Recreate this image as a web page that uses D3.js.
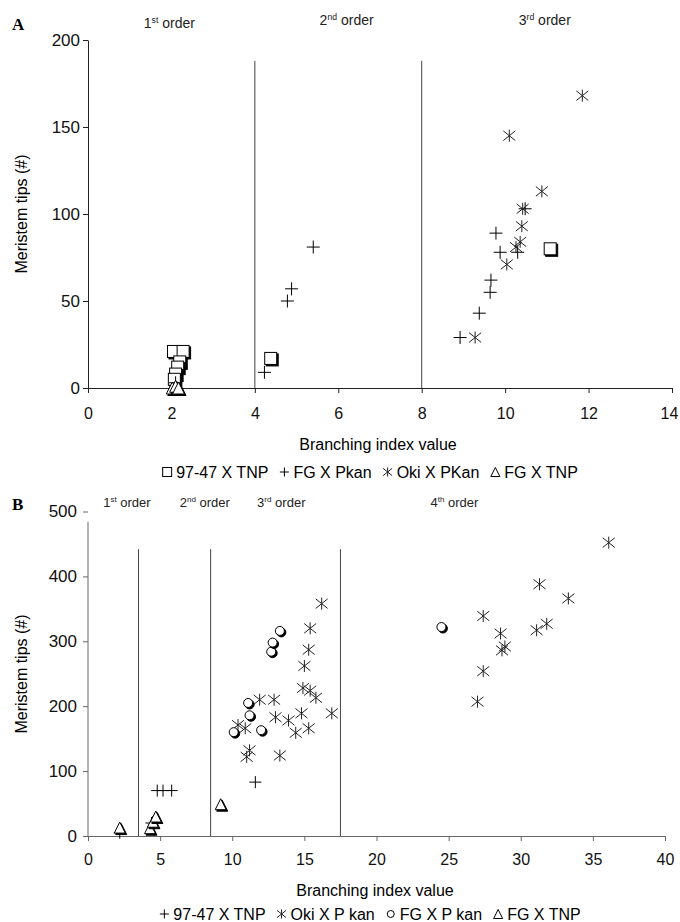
<!DOCTYPE html>
<html>
<head>
<meta charset="utf-8">
<script src="https://cdn.jsdelivr.net/npm/d3@7"></script>
<style>
  body { margin: 0; background: #fff; }
  svg { font-family: "Liberation Sans", Arial, sans-serif; }
</style>
</head>
<body>
<script>
// ---- panel A data (branching index, meristem tips) ----
const aXTicks = [0, 2, 4, 6, 8, 10, 12, 14];
const aYTicks = [0, 50, 100, 150, 200];
const aSquare = [[2.05, 21], [2.28, 21], [2.2, 15], [2.15, 12], [2.1, 8], [2.07, 5], [4.38, 17], [11.08, 80]];
const aPlus = [[2.1, 3], [4.23, 9], [4.78, 50], [4.88, 57], [5.4, 81], [8.92, 29], [9.38, 43], [9.64, 55], [9.66, 62], [9.78, 89], [9.88, 78], [10.3, 78], [10.48, 103]];
const aStar = [[9.28, 29], [10.04, 71], [10.26, 81], [10.36, 84], [10.4, 93], [10.42, 103], [10.88, 113], [10.1, 145], [11.85, 168]];
const aTri = [[2.02, 0], [2.1, 1], [2.17, 0]];
const aBounds = [4, 8];
const aBoundTop = 188;
const aOrders = [["1", "st", 1.95], ["2", "nd", 6.2], ["3", "rd", 10.95]];

// ---- panel B data ----
const bXTicks = [0, 5, 10, 15, 20, 25, 30, 35, 40];
const bYTicks = [0, 100, 200, 300, 400, 500];
const bPlus = [[2.2, 5], [4.4, 20], [4.8, 70], [5.2, 70], [5.8, 70], [11.6, 83]];
const bStar = [[10.4, 171], [10.9, 166], [11.2, 132], [11.0, 122], [11.9, 210], [12.9, 210], [13.0, 183], [13.3, 124], [13.9, 178], [14.4, 159], [14.8, 189], [15.3, 166], [16.9, 189], [14.9, 228], [15.4, 224], [15.8, 213], [15.0, 262], [15.3, 287], [15.4, 320], [16.2, 358], [27.0, 207], [27.4, 254], [28.7, 286], [28.9, 292], [28.6, 312], [27.4, 339], [31.1, 317], [31.8, 327], [33.3, 366], [31.3, 388], [36.1, 452]];
const bCircle = [[10.1, 160], [11.1, 205], [11.2, 186], [12.0, 163], [12.7, 284], [12.8, 298], [13.3, 316], [24.5, 322]];
const bTri = [[2.2, 13], [4.3, 12], [4.5, 22], [4.7, 30], [9.2, 49]];
const bBounds = [3.5, 8.5, 17.5];
const bBoundTop = 442;
const bOrders = [["1", "st", 2.7], ["2", "nd", 8.1], ["3", "rd", 13.4], ["4", "th", 25.4]];

const width = 680, height = 922;
const svg = d3.select("body").append("svg")
  .attr("width", width)
  .attr("height", height);

// draws one marker; shadow = the dark offset copy seen on the hollow symbols
function marker(g, type, x, y, s, shadow) {
  const h = s / 2;
  if (type == "square" || type == "circle" || type == "tri") {
    const shape = (dx, dy) => {
      if (type == "square") return g.append("rect").attr("x", x - h + dx).attr("y", y - h + dy).attr("width", s).attr("height", s);
      if (type == "circle") return g.append("circle").attr("cx", x + dx).attr("cy", y + dy).attr("r", h);
      return g.append("path").attr("d", `M${x + dx},${y - h + dy}L${x + h + dx},${y + h + dy}L${x - h + dx},${y + h + dy}Z`);
    };
    if (shadow) shape(1.5, 1.5).attr("fill", "#000").attr("stroke", "#000").attr("stroke-width", 1);
    shape(0, 0).attr("fill", "#fff").attr("stroke", "#000").attr("stroke-width", 1);
  } else if (type == "plus") {
    g.append("path").attr("d", `M${x - h},${y}H${x + h}M${x},${y - h}V${y + h}`)
      .attr("stroke", "#000").attr("stroke-width", 1).attr("fill", "none");
  } else {
    g.append("path").attr("d", `M${x - h},${y - h * 0.8}L${x + h},${y + h * 0.8}M${x + h},${y - h * 0.8}L${x - h},${y + h * 0.8}M${x},${y - h}V${y + h}`)
      .attr("stroke", "#222").attr("stroke-width", 1).attr("fill", "none");
  }
}

function panel(cfg) {
  const g = svg.append("g");
  const x = d3.scaleLinear().domain(cfg.xDomain).range(cfg.xRange);
  const y = d3.scaleLinear().domain(cfg.yDomain).range(cfg.yRange);

  // order boundaries
  g.selectAll(".bound").data(cfg.bounds).enter().append("line")
    .attr("x1", d => x(d)).attr("x2", d => x(d))
    .attr("y1", y(0)).attr("y2", y(cfg.boundTop))
    .attr("stroke", "#444").attr("stroke-width", 1);

  // axes
  const ax = g.append("g")
    .attr("transform", "translate(0," + y(0) + ")")
    .call(d3.axisBottom(x).tickValues(cfg.xTicks).tickSize(5).tickSizeOuter(0).tickPadding(cfg.xPad));
  const ay = g.append("g")
    .attr("transform", "translate(" + x(0) + ",0)")
    .call(d3.axisLeft(y).tickValues(cfg.yTicks).tickSize(5).tickSizeOuter(0).tickPadding(cfg.yPad));
  if (cfg.yLineTop) ay.select(".domain").attr("d", `M0,${y(0)}V${y(cfg.yLineTop)}`);
  [ax, ay].forEach(a => {
    a.attr("font-family", null).attr("font-size", null);
    a.selectAll("text").attr("fill", "#111");
    a.selectAll("line, path").attr("stroke", cfg.axisColor);
  });
  ax.selectAll("text").attr("font-size", 16);
  ay.selectAll("text").attr("font-size", 17);
  // keep the last x label inside the page
  ax.selectAll(".tick:last-of-type text").attr("dx", cfg.lastDx || 0);

  // order labels
  cfg.orders.forEach((o, i) => {
    const t = g.append("text")
      .attr("x", x(o[2])).attr("y", cfg.orderY[i])
      .attr("text-anchor", "middle").attr("font-size", cfg.orderSize).attr("fill", "#222");
    t.append("tspan").text(o[0]);
    t.append("tspan").text(o[1]).attr("font-size", cfg.orderSize * 0.62).attr("dy", -cfg.orderSize * 0.38);
    t.append("tspan").text(" order").attr("dy", cfg.orderSize * 0.38);
  });

  // points
  cfg.series.forEach(sr => {
    const sg = g.append("g");
    sr.data.forEach(d => marker(sg, sr.type, x(d[0]), y(d[1]), sr.size, true));
  });

  // axis titles
  g.append("text")
    .attr("x", cfg.xTitle[0]).attr("y", cfg.xTitle[1])
    .attr("text-anchor", "middle").attr("font-size", 16)
    .text("Branching index value");
  g.append("text")
    .attr("transform", `translate(${cfg.yTitle[0]},${cfg.yTitle[1]}) rotate(-90)`)
    .attr("text-anchor", "middle").attr("font-size", 16)
    .text("Meristem tips (#)");

  // panel letter
  g.append("text")
    .attr("x", 12).attr("y", cfg.letterY)
    .attr("font-family", "'Liberation Serif', serif").attr("font-weight", "bold").attr("font-size", 17)
    .text(cfg.letter);

  // legend, laid out from measured text widths then centred
  const lg = g.append("g");
  let cur = 0;
  cfg.series.forEach(sr => {
    marker(lg, sr.type, cur + 5, -6, sr.type == "circle" ? 7 : 9, false);
    const t = lg.append("text").attr("x", cur + 14).attr("y", 0).attr("font-size", 16).text(sr.label);
    cur += 14 + t.node().getComputedTextLength() + 11;
  });
  cur -= 11;
  lg.attr("transform", `translate(${cfg.legend[0] - cur / 2},${cfg.legend[1]})`);
}

panel({
  letter: "A", letterY: 30,
  xDomain: [0, 14], xRange: [88, 672],
  yDomain: [0, 200], yRange: [388, 40],
  xTicks: aXTicks, yTicks: aYTicks, xPad: 15, yPad: 3, lastDx: -3,
  axisColor: "#222",
  bounds: aBounds, boundTop: aBoundTop,
  orders: aOrders, orderY: [28, 25, 25], orderSize: 14,
  series: [
    { type: "square", data: aSquare, size: 12, label: "97-47 X TNP" },
    { type: "plus", data: aPlus, size: 13, label: "FG X Pkan" },
    { type: "star", data: aStar, size: 12, label: "Oki X PKan" },
    { type: "tri", data: aTri, size: 12, label: "FG X TNP" }
  ],
  xTitle: [378, 450], yTitle: [27, 214], legend: [370, 478]
});

panel({
  letter: "B", letterY: 510,
  xDomain: [0, 40], xRange: [88, 665],
  yDomain: [0, 500], yRange: [836, 511.5],
  xTicks: bXTicks, yTicks: bYTicks, xPad: 13, yPad: 6,
  axisColor: "#666", yLineTop: 484,
  bounds: bBounds, boundTop: bBoundTop,
  orders: bOrders, orderY: [507, 507, 507, 507], orderSize: 13,
  series: [
    { type: "plus", data: bPlus, size: 12, label: "97-47 X TNP" },
    { type: "star", data: bStar, size: 12, label: "Oki X P kan" },
    { type: "circle", data: bCircle, size: 9, label: "FG X P kan" },
    { type: "tri", data: bTri, size: 11, label: "FG X TNP" }
  ],
  xTitle: [375, 896], yTitle: [27, 674], legend: [370, 920]
});
</script>
</body>
</html>
